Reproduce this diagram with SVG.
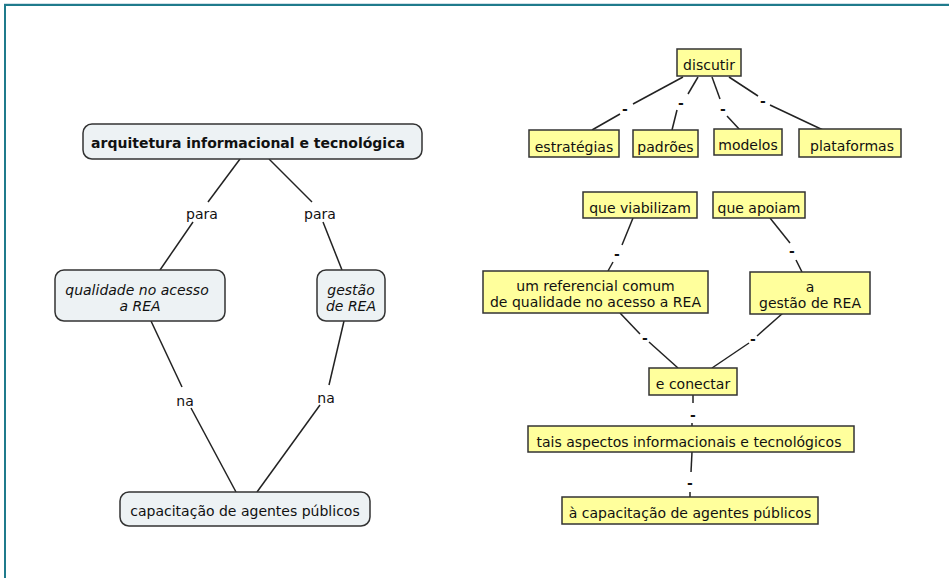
<svg xmlns="http://www.w3.org/2000/svg" width="949" height="578" viewBox="0 0 949 578">
<style>
text{font-family:"DejaVu Sans","Verdana",sans-serif;font-size:14px;fill:#111;text-anchor:middle;dominant-baseline:central;transform:translateY(1px)}
.c{fill:#edf2f4;stroke:#333;stroke-width:1.5}
.y{fill:#ffff9c;stroke:#333;stroke-width:1.5}
.it{font-style:italic}
.b{font-weight:bold}
.d{font-weight:bold}
#links line{stroke:#222;stroke-width:1.5}
</style>
<rect x="0" y="0" width="949" height="578" fill="#fff"/>
<path d="M5,578 V5 H949" fill="none" stroke="#1f7b8c" stroke-width="2"/>
<line x1="4" y1="3.5" x2="949" y2="3.5" stroke="#cfe0e8" stroke-width="1"/>
<g id="links">
<line x1="240" y1="159" x2="208" y2="202"/>
<line x1="193" y1="222" x2="160" y2="270"/>
<line x1="269" y1="159" x2="312" y2="202"/>
<line x1="323" y1="222" x2="342" y2="270"/>
<line x1="151" y1="321" x2="182" y2="387"/>
<line x1="191" y1="408" x2="236" y2="492"/>
<line x1="344" y1="321" x2="329" y2="385"/>
<line x1="320" y1="405" x2="257" y2="492"/>
<line x1="683" y1="77" x2="633" y2="104"/>
<line x1="620" y1="114" x2="592" y2="130"/>
<line x1="698" y1="77" x2="688" y2="94"/>
<line x1="677" y1="110" x2="672" y2="130"/>
<line x1="712" y1="77" x2="720" y2="99"/>
<line x1="727" y1="116" x2="740" y2="130"/>
<line x1="729" y1="77" x2="758" y2="96"/>
<line x1="770" y1="105" x2="823" y2="130"/>
<line x1="633" y1="218" x2="622" y2="245"/>
<line x1="613" y1="262" x2="608" y2="271"/>
<line x1="770" y1="218" x2="790" y2="243"/>
<line x1="796" y1="260" x2="802" y2="272"/>
<line x1="620" y1="313" x2="640" y2="334"/>
<line x1="649" y1="342" x2="678" y2="368"/>
<line x1="783" y1="313" x2="757" y2="336"/>
<line x1="749" y1="343" x2="712" y2="368"/>
<line x1="693" y1="395" x2="693" y2="403"/>
<line x1="692" y1="423" x2="692" y2="426"/>
<line x1="692" y1="452" x2="691" y2="472"/>
<line x1="690" y1="492" x2="690" y2="497"/>
<text x="202" y="213">para</text>
<text x="320" y="213">para</text>
<text x="185" y="400">na</text>
<text x="326" y="397">na</text>
<text class="d" x="625" y="108">-</text>
<text class="d" x="681" y="102">-</text>
<text class="d" x="723" y="108">-</text>
<text class="d" x="763" y="100">-</text>
<text class="d" x="617" y="253">-</text>
<text class="d" x="792" y="250">-</text>
<text class="d" x="645" y="337">-</text>
<text class="d" x="753" y="338">-</text>
<text class="d" x="693" y="414">-</text>
<text class="d" x="690" y="482">-</text>
</g>
<g id="n-arquitetura"><rect class="c" x="83" y="124" width="339" height="35" rx="9"/><text class="b" x="248" y="142">arquitetura informacional e tecnológica</text></g>
<g id="n-qualidade"><rect class="c" x="55" y="270" width="170" height="51" rx="9"/><text class="it" x="137" y="289">qualidade no acesso</text><text class="it" x="140" y="305">a REA</text></g>
<g id="n-gestao"><rect class="c" x="317" y="270" width="68" height="51" rx="9"/><text class="it" x="351" y="289">gestão</text><text class="it" x="351" y="305">de REA</text></g>
<g id="n-capacitacao"><rect class="c" x="120" y="492" width="250" height="34" rx="9"/><text x="245" y="510">capacitação de agentes públicos</text></g>
<g id="n-discutir"><rect class="y" x="677" y="49" width="64" height="27"/><text x="709" y="64">discutir</text></g>
<g id="n-estrategias"><rect class="y" x="529" y="130" width="90" height="27"/><text x="574" y="146">estratégias</text></g>
<g id="n-padroes"><rect class="y" x="633" y="130" width="65" height="27"/><text x="665.5" y="146">padrões</text></g>
<g id="n-modelos"><rect class="y" x="714" y="129" width="68" height="26"/><text x="748" y="144">modelos</text></g>
<g id="n-plataformas"><rect class="y" x="799" y="129" width="102" height="28"/><text x="852" y="145">plataformas</text></g>
<g id="n-viabilizam"><rect class="y" x="583" y="192" width="114" height="26"/><text x="640" y="207">que viabilizam</text></g>
<g id="n-apoiam"><rect class="y" x="713" y="192" width="92" height="26"/><text x="759" y="207">que apoiam</text></g>
<g id="n-referencial"><rect class="y" x="483" y="271" width="225" height="42"/><text x="595.5" y="285">um referencial comum</text><text x="595.5" y="301">de qualidade no acesso a REA</text></g>
<g id="n-gestao2"><rect class="y" x="750" y="272" width="120" height="42"/><text x="810" y="286">a</text><text x="810" y="302">gestão de REA</text></g>
<g id="n-conectar"><rect class="y" x="649" y="368" width="88" height="27"/><text x="693" y="383">e conectar</text></g>
<g id="n-tais"><rect class="y" x="528" y="426" width="326" height="26"/><text x="689" y="441">tais aspectos informacionais e tecnológicos</text></g>
<g id="n-acapacitacao"><rect class="y" x="562" y="497" width="256" height="27"/><text x="690" y="512">à capacitação de agentes públicos</text></g>
</svg>
